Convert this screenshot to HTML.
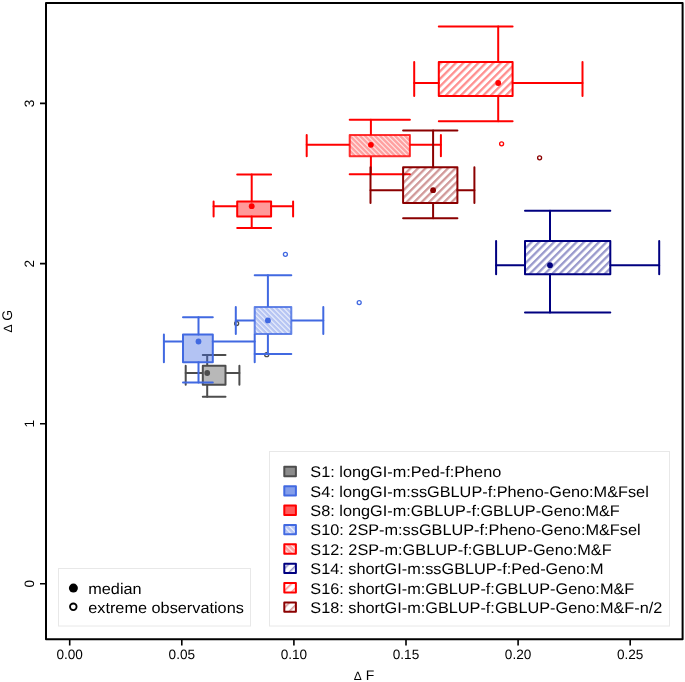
<!DOCTYPE html>
<html><head><meta charset="utf-8"><style>
html,body{margin:0;padding:0;background:#fff;width:685px;height:682px;overflow:hidden}
svg{display:block}
text{font-family:"Liberation Sans", sans-serif;font-size:15.4px;fill:#000}
body{-webkit-font-smoothing:antialiased}
text{text-rendering:geometricPrecision}
svg{will-change:transform}
</style></head><body>
<svg width="685" height="682" viewBox="0 0 685 682">
<defs>
<pattern id="fwd-n" patternUnits="userSpaceOnUse" width="5.3" height="5.3" patternTransform="rotate(45)">
  <rect x="0" width="2.3" height="5.3" fill="#000080" fill-opacity="0.4"/></pattern>
<pattern id="fwd-r" patternUnits="userSpaceOnUse" width="5.3" height="5.3" patternTransform="rotate(45)">
  <rect x="0" width="2.3" height="5.3" fill="#ff0000" fill-opacity="0.44"/></pattern>
<pattern id="fwd-d" patternUnits="userSpaceOnUse" width="5.3" height="5.3" patternTransform="rotate(45)">
  <rect x="0" width="2.3" height="5.3" fill="#8b0000" fill-opacity="0.4"/></pattern>
<pattern id="back-b" patternUnits="userSpaceOnUse" width="3.55" height="3.55" patternTransform="rotate(-45)">
  <rect width="3.55" height="3.55" fill="#b7c5f3"/><rect x="0" width="1.0" height="3.55" fill="#f4f6fd"/></pattern>
<pattern id="back-r" patternUnits="userSpaceOnUse" width="3.55" height="3.55" patternTransform="rotate(-45)">
  <rect width="3.55" height="3.55" fill="#ffa0a0"/><rect x="0" width="1.0" height="3.55" fill="#fff4f4"/></pattern>

<pattern id="fwd-nL" patternUnits="userSpaceOnUse" width="6" height="6" patternTransform="translate(284 466) rotate(45)">
  <rect width="6" height="6" fill="#fff"/><rect x="0" width="1.6" height="6" fill="#9999cc"/></pattern>
<pattern id="fwd-rL" patternUnits="userSpaceOnUse" width="6" height="6" patternTransform="rotate(45)">
  <rect width="6" height="6" fill="#fff"/><rect x="0" width="1.6" height="6" fill="#ff9090"/></pattern>
<pattern id="fwd-dL" patternUnits="userSpaceOnUse" width="6" height="6" patternTransform="rotate(45)">
  <rect width="6" height="6" fill="#fff"/><rect x="0" width="1.6" height="6" fill="#d49999"/></pattern>
<pattern id="back-bL" patternUnits="userSpaceOnUse" width="4" height="4" patternTransform="rotate(-45)">
  <rect width="4" height="4" fill="#b7c5f3"/><rect x="0" width="1.2" height="4" fill="#f4f6fd"/></pattern>
<pattern id="back-rL" patternUnits="userSpaceOnUse" width="4" height="4" patternTransform="rotate(-45)">
  <rect width="4" height="4" fill="#ffa0a0"/><rect x="0" width="1.2" height="4" fill="#fff4f4"/></pattern>
</defs>
<rect width="685" height="682" fill="#fff"/>
<circle cx="236.65" cy="323.5" r="2.0" fill="none" stroke="#4d4d4d" stroke-width="1.3"/>
<circle cx="266.7" cy="354.7" r="2.0" fill="none" stroke="#4d4d4d" stroke-width="1.3"/>
<path d="M185.7 373.0H202.8M225.5 373.0H239.4M207.2 365.7V355.0M207.2 384.8V396.8" stroke="#4d4d4d" stroke-width="2.0" fill="none" stroke-linecap="round"/>
<path d="M185.7 365.7V384.8M239.4 365.7V384.8M202.8 355.0H225.5M202.8 396.8H225.5" stroke="#4d4d4d" stroke-width="2.0" fill="none" stroke-linecap="round"/>
<rect x="202.8" y="365.7" width="22.7" height="19.1" fill="#b8b8b8" stroke="#4d4d4d" stroke-width="2.0" stroke-linejoin="round"/>
<circle cx="207.2" cy="373.0" r="2.9" fill="#4d4d4d"/>
<path d="M163.9 341.5H183.0M212.8 341.5H254.7M198.5 334.5V317.2M198.5 362.3V382.4" stroke="#4169e1" stroke-width="2.0" fill="none" stroke-linecap="round"/>
<path d="M163.9 334.5V362.3M254.7 334.5V362.3M183.0 317.2H212.8M183.0 382.4H212.8" stroke="#4169e1" stroke-width="2.0" fill="none" stroke-linecap="round"/>
<rect x="183.0" y="334.5" width="29.8" height="27.8" fill="rgba(65,105,225,0.4)" stroke="#4169e1" stroke-width="2.0" stroke-linejoin="round"/>
<circle cx="198.5" cy="341.5" r="2.9" fill="#4169e1"/>
<path d="M213.6 206.2H237.2M271.1 206.2H293.1M251.7 201.4V174.5M251.7 216.5V227.9" stroke="#ff0000" stroke-width="2.0" fill="none" stroke-linecap="round"/>
<path d="M213.6 201.4V216.5M293.1 201.4V216.5M237.2 174.5H271.1M237.2 227.9H271.1" stroke="#ff0000" stroke-width="2.0" fill="none" stroke-linecap="round"/>
<rect x="237.2" y="201.4" width="33.9" height="15.1" fill="rgba(255,0,0,0.4)" stroke="#ff0000" stroke-width="2.0" stroke-linejoin="round"/>
<circle cx="251.7" cy="206.2" r="2.9" fill="#ff0000"/>
<circle cx="285.4" cy="254.3" r="2.0" fill="none" stroke="#4169e1" stroke-width="1.3"/>
<circle cx="359.2" cy="302.6" r="2.0" fill="none" stroke="#4169e1" stroke-width="1.3"/>
<path d="M235.8 320.4H254.7M291.3 320.4H323.3M267.9 306.9V275.2M267.9 334.1V354.0" stroke="#4169e1" stroke-width="2.0" fill="none" stroke-linecap="round"/>
<path d="M235.8 306.9V334.1M323.3 306.9V334.1M254.7 275.2H291.3M254.7 354.0H291.3" stroke="#4169e1" stroke-width="2.0" fill="none" stroke-linecap="round"/>
<rect x="254.7" y="306.9" width="36.6" height="27.2" fill="url(#back-b)" stroke="#4169e1" stroke-width="2.0" stroke-linejoin="round" stroke-opacity="0.8"/>
<circle cx="267.9" cy="320.4" r="2.9" fill="#4169e1"/>
<path d="M306.7 144.85H349.7M409.9 144.85H440.9M370.9 135.1V119.8M370.9 156.3V174.2" stroke="#ff0000" stroke-width="2.0" fill="none" stroke-linecap="round"/>
<path d="M306.7 135.1V156.3M440.9 135.1V156.3M349.7 119.8H409.9M349.7 174.2H409.9" stroke="#ff0000" stroke-width="2.0" fill="none" stroke-linecap="round"/>
<rect x="349.7" y="135.1" width="60.2" height="21.2" fill="url(#back-r)" stroke="#ff0000" stroke-width="2.0" stroke-linejoin="round" stroke-opacity="0.8"/>
<circle cx="370.9" cy="144.85" r="2.9" fill="#ff0000"/>
<path d="M496.1 265.2H525.0M610.3 265.2H659.2M550.0 241.0V210.85M550.0 274.2V312.5" stroke="#000080" stroke-width="2.0" fill="none" stroke-linecap="round"/>
<path d="M496.1 241.0V274.2M659.2 241.0V274.2M525.0 210.85H610.3M525.0 312.5H610.3" stroke="#000080" stroke-width="2.0" fill="none" stroke-linecap="round"/>
<rect x="525.0" y="241.0" width="85.3" height="33.2" fill="url(#fwd-n)" stroke="#000080" stroke-width="2.0" stroke-linejoin="round"/>
<circle cx="550.0" cy="265.2" r="2.9" fill="#000080"/>
<circle cx="501.6" cy="143.8" r="2.0" fill="none" stroke="#ff0000" stroke-width="1.3"/>
<path d="M414.2 83.0H438.8M512.6 83.0H582.5M498.2 62.0V26.4M498.2 95.9V121.2" stroke="#ff0000" stroke-width="2.0" fill="none" stroke-linecap="round"/>
<path d="M414.2 62.0V95.9M582.5 62.0V95.9M438.8 26.4H512.6M438.8 121.2H512.6" stroke="#ff0000" stroke-width="2.0" fill="none" stroke-linecap="round"/>
<rect x="438.8" y="62.0" width="73.8" height="33.9" fill="url(#fwd-r)" stroke="#ff0000" stroke-width="2.0" stroke-linejoin="round"/>
<circle cx="498.2" cy="83.0" r="2.9" fill="#ff0000"/>
<circle cx="539.6" cy="157.8" r="2.0" fill="none" stroke="#8b0000" stroke-width="1.3"/>
<path d="M370.5 190.2H403.1M457.4 190.2H474.4M433.1 167.2V130.5M433.1 203.1V218.3" stroke="#8b0000" stroke-width="2.0" fill="none" stroke-linecap="round"/>
<path d="M370.5 167.2V203.1M474.4 167.2V203.1M403.1 130.5H457.4M403.1 218.3H457.4" stroke="#8b0000" stroke-width="2.0" fill="none" stroke-linecap="round"/>
<rect x="403.1" y="167.2" width="54.3" height="35.9" fill="url(#fwd-d)" stroke="#8b0000" stroke-width="2.0" stroke-linejoin="round"/>
<circle cx="433.1" cy="190.2" r="2.9" fill="#8b0000"/>
<rect x="58.5" y="568.5" width="192" height="57.5" fill="#fff" stroke="#e8e8e8" stroke-width="1"/><circle cx="73.4" cy="588.1" r="4.5" fill="#000"/><circle cx="73.3" cy="606.8" r="3.3" fill="none" stroke="#000" stroke-width="1.8"/><text transform="translate(88.2 593.6) scale(1.058 1)">median</text><text transform="translate(88.2 613.1) scale(1.058 1)">extreme observations</text><rect x="269.5" y="451.5" width="400" height="174.5" fill="#fff" stroke="#e8e8e8" stroke-width="1"/><rect x="284.3" y="466.75" width="11.6" height="9.4" fill="#8c8c8c" stroke="#4d4d4d" stroke-width="2" stroke-linejoin="round"/><text transform="translate(310.3 477.35) scale(1.058 1)">S1: longGI-m:Ped-f:Pheno</text><rect x="284.3" y="486.13" width="11.6" height="9.4" fill="#849eea" stroke="#4169e1" stroke-width="2" stroke-linejoin="round"/><text transform="translate(310.3 496.73) scale(1.058 1)">S4: longGI-m:ssGBLUP-f:Pheno-Geno:M&amp;Fsel</text><rect x="284.3" y="505.51" width="11.6" height="9.4" fill="#ff5c5c" stroke="#ff0000" stroke-width="2" stroke-linejoin="round"/><text transform="translate(310.3 516.11) scale(1.058 1)">S8: longGI-m:GBLUP-f:GBLUP-Geno:M&amp;F</text><rect x="284.3" y="524.89" width="11.6" height="9.4" fill="url(#back-bL)" stroke="#4169e1" stroke-width="2" stroke-linejoin="round"/><text transform="translate(310.3 535.49) scale(1.058 1)">S10: 2SP-m:ssGBLUP-f:Pheno-Geno:M&amp;Fsel</text><rect x="284.3" y="544.27" width="11.6" height="9.4" fill="url(#back-rL)" stroke="#ff0000" stroke-width="2" stroke-linejoin="round"/><text transform="translate(310.3 554.87) scale(1.058 1)">S12: 2SP-m:GBLUP-f:GBLUP-Geno:M&amp;F</text><rect x="284.3" y="563.65" width="11.6" height="9.4" fill="url(#fwd-nL)" stroke="#000080" stroke-width="2" stroke-linejoin="round"/><text transform="translate(310.3 574.25) scale(1.058 1)">S14: shortGI-m:ssGBLUP-f:Ped-Geno:M</text><rect x="284.3" y="583.03" width="11.6" height="9.4" fill="url(#fwd-rL)" stroke="#ff0000" stroke-width="2" stroke-linejoin="round"/><text transform="translate(310.3 593.63) scale(1.058 1)">S16: shortGI-m:GBLUP-f:GBLUP-Geno:M&amp;F</text><rect x="284.3" y="602.41" width="11.6" height="9.4" fill="url(#fwd-dL)" stroke="#8b0000" stroke-width="2" stroke-linejoin="round"/><text transform="translate(310.3 613.01) scale(1.058 1)">S18: shortGI-m:GBLUP-f:GBLUP-Geno:M&amp;F-n/2</text>

<rect x="46" y="2.9" width="636.6" height="636.4" fill="none" stroke="#000" stroke-width="2" stroke-linejoin="round"/>
<path d="M69.7 640V645.5M181.8 640V645.5M293.9 640V645.5M406 640V645.5M518.1 640V645.5M630.2 640V645.5" stroke="#000" stroke-width="1.6"/>
<path d="M40 583.8H45M40 423.7H45M40 263.6H45M40 103.4H45" stroke="#000" stroke-width="1.6"/>

<text x="0" y="0" transform="translate(69.7 659)" text-anchor="middle" style="font-size:13.6px">0.00</text><text x="0" y="0" transform="translate(181.8 659)" text-anchor="middle" style="font-size:13.6px">0.05</text><text x="0" y="0" transform="translate(293.9 659)" text-anchor="middle" style="font-size:13.6px">0.10</text><text x="0" y="0" transform="translate(406 659)" text-anchor="middle" style="font-size:13.6px">0.15</text><text x="0" y="0" transform="translate(518.1 659)" text-anchor="middle" style="font-size:13.6px">0.20</text><text x="0" y="0" transform="translate(630.2 659)" text-anchor="middle" style="font-size:13.6px">0.25</text><text x="0" y="0" transform="translate(34 583.8) rotate(-90)" text-anchor="middle" style="font-size:13.6px">0</text><text x="0" y="0" transform="translate(34 423.7) rotate(-90)" text-anchor="middle" style="font-size:13.6px">1</text><text x="0" y="0" transform="translate(34 263.6) rotate(-90)" text-anchor="middle" style="font-size:13.6px">2</text><text x="0" y="0" transform="translate(34 103.4) rotate(-90)" text-anchor="middle" style="font-size:13.6px">3</text><text x="0" y="0" transform="translate(364 680)" text-anchor="middle" style="font-size:14px"><tspan style="font-size:12px">&#916;</tspan> F</text><text x="0" y="0" transform="translate(11.9 321.2) rotate(-90)" text-anchor="middle" style="font-size:14px"><tspan style="font-size:12px">&#916;</tspan> G</text>
</svg>
</body></html>
